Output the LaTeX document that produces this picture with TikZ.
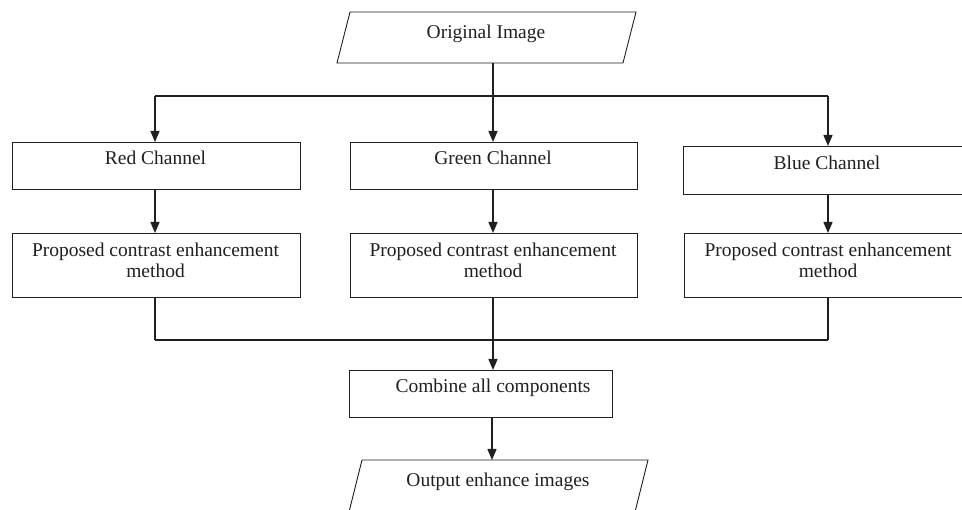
\documentclass[tikz,border=0pt]{standalone}
\usepackage{fontspec}
\setmainfont{Liberation Serif}
\usetikzlibrary{arrows.meta}
\definecolor{ink}{HTML}{231F20}
\begin{document}
\begin{tikzpicture}[x=1pt,y=-1pt,
  box/.style={draw=ink, line width=0.9pt, inner sep=0pt, outer sep=0pt},
  lbl/.style={font=\fontsize{19.5}{21.5}\selectfont, text=ink, anchor=base, inner sep=0pt, align=center},
  conn/.style={draw=ink, line width=1.4pt},
  arr/.style={conn, -{Triangle[width=9pt,length=11pt]}}
]
\useasboundingbox (0,0) rectangle (962,510);
\fill[white] (0,0) rectangle (962,510);

% input parallelogram
\draw[ink, line width=0.9pt] (350,12) -- (636,12) -- (623,63) -- (337,63) -- cycle;
\node[lbl] (tin) at (486,39) {Original Image};
\coordinate (inB) at (493,63);

% channel boxes
\node[box, minimum width=288pt, minimum height=47pt] (red) at (156,165.5) {};
\node[box, minimum width=287pt, minimum height=47pt] (green) at (493.5,165.5) {};
\node[box, minimum width=288pt, minimum height=48pt] (blue) at (827,170) {};
\node[lbl] (tred) at (155.5,165) {Red Channel};
\node[lbl] (tgreen) at (493,165) {Green Channel};
\node[lbl] (tblue) at (827,170) {Blue Channel};

% method boxes
\node[box, minimum width=288pt, minimum height=64pt] (redp) at (156,265) {};
\node[box, minimum width=287pt, minimum height=64pt] (greenp) at (493.5,265) {};
\node[box, minimum width=288pt, minimum height=64pt] (bluep) at (828,265) {};
\node[lbl] (tredp) at (155.5,278) {Proposed contrast enhancement\\method};
\node[lbl] (tgreenp) at (493,278) {Proposed contrast enhancement\\method};
\node[lbl] (tbluep) at (828,278) {Proposed contrast enhancement\\method};

% combine box
\node[box, minimum width=263pt, minimum height=47pt] (comb) at (480.5,393.5) {};
\node[lbl] (tcomb) at (493,393) {Combine all components};

% output parallelogram
\draw[ink, line width=0.9pt] (362,460) -- (648,460) -- (635,512) -- (349,512) -- cycle;
\node[lbl] (tout) at (498,487) {Output enhance images};
\coordinate (outT) at (492,460);

% junctions
\coordinate (jl) at (155,96);
\coordinate (jm) at (493,96);
\coordinate (jr) at (828,96);
\coordinate (bl) at (155,340);
\coordinate (bm) at (493,340);
\coordinate (br) at (828,340);

% top distribution
\draw[conn] (inB) -- (jm);
\draw[conn] (jl) -- (jr);
\draw[arr] (jl) -- (jl |- red.north);
\draw[arr] (jm) -- (jm |- green.north);
\draw[arr] (jr) -- (jr |- blue.north);

% channel to method
\draw[arr] (red.south -| jl) -- (redp.north -| jl);
\draw[arr] (green.south -| jm) -- (greenp.north -| jm);
\draw[arr] (blue.south -| jr) -- (bluep.north -| jr);

% collection
\draw[conn] (redp.south -| bl) -- (bl);
\draw[conn] (bluep.south -| br) -- (br);
\draw[conn] (greenp.south -| bm) -- (bm);
\draw[conn] (bl) -- (br);
\draw[arr] (bm) -- (bm |- comb.north);
\draw[arr] (comb.south -| outT) -- (outT);
\end{tikzpicture}
\end{document}
